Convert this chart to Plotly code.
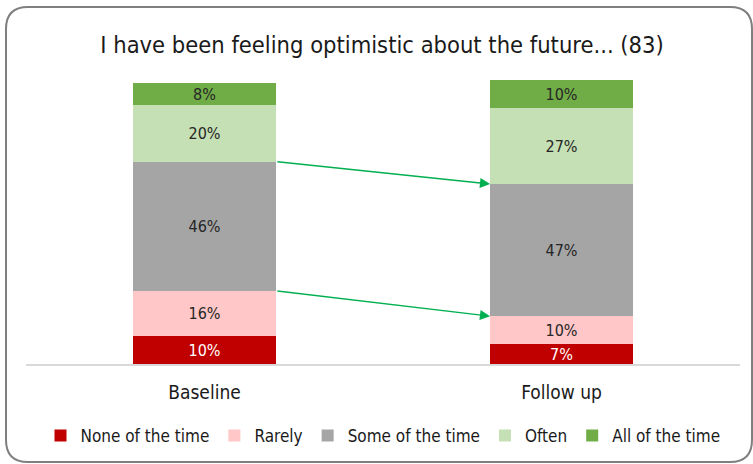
import plotly.graph_objects as go

# Survey responses, % of respondents (n = 83)
periods = ["Baseline", "Follow up"]
responses = ["None of the time", "Rarely", "Some of the time", "Often", "All of the time"]
none_of_time = [10, 7]
rarely = [16, 10]
some_of_time = [46, 47]
often = [20, 27]
all_of_time = [8, 10]

series = [none_of_time, rarely, some_of_time, often, all_of_time]
colors = ["#C00000", "#FFC7C7", "#A5A5A5", "#C5E0B4", "#70AD47"]
label_colors = ["#FFFFFF", "#262626", "#262626", "#262626", "#262626"]

FONT = "DejaVu Sans Condensed, Liberation Sans Narrow, Arial Narrow, sans-serif"
xpos = list(range(len(periods)))
BAR_W = 0.4

fig = go.Figure()
for name, vals, col, lc in zip(responses, series, colors, label_colors):
    fig.add_trace(go.Bar(
        x=xpos, y=vals, name=name, width=BAR_W,
        marker=dict(color=col, line=dict(width=0)),
        text=[f"{v}%" for v in vals],
        textposition="inside", insidetextanchor="middle",
        textfont=dict(family=FONT, size=16, color=lc),
        constraintext="none",
    ))

# Arrows linking the upper edges of "Rarely" and "Some of the time" between periods
def cum(idx, k):
    return sum(s[idx] for s in series[:k + 1])

for k in (2, 1):
    fig.add_annotation(
        x=xpos[1] - BAR_W / 2, y=cum(1, k),
        ax=xpos[0] + BAR_W / 2, ay=cum(0, k),
        xref="x", yref="y", axref="x", ayref="y",
        showarrow=True, arrowhead=2, arrowsize=1.45, arrowwidth=1.4,
        arrowcolor="#00B050", standoff=0, startstandoff=0, text="",
    )

# Rounded outer frame
L, T, R, B = 26, 80, 740, 364
W, H = R - L, B - T
def px(x):
    return (x - L) / W
def py(y):
    return (B - y) / H
fx0, fx1, fy0, fy1, rad = 6, 752, 7, 462, 22
path = (
    f"M {px(fx0 + rad)},{py(fy0)} L {px(fx1 - rad)},{py(fy0)} "
    f"Q {px(fx1)},{py(fy0)} {px(fx1)},{py(fy0 + rad)} "
    f"L {px(fx1)},{py(fy1 - rad)} Q {px(fx1)},{py(fy1)} {px(fx1 - rad)},{py(fy1)} "
    f"L {px(fx0 + rad)},{py(fy1)} Q {px(fx0)},{py(fy1)} {px(fx0)},{py(fy1 - rad)} "
    f"L {px(fx0)},{py(fy0 + rad)} Q {px(fx0)},{py(fy0)} {px(fx0 + rad)},{py(fy0)} Z"
)
fig.add_shape(type="path", path=path, xref="paper", yref="paper",
              line=dict(color="#7F7F7F", width=2), layer="above")

fig.update_layout(
    width=753, height=464,
    margin=dict(l=L, r=753 - R, t=T, b=464 - B, autoexpand=False),
    paper_bgcolor="white", plot_bgcolor="white",
    barmode="stack", bargap=0,
    title=dict(text="I have been feeling optimistic about the future... (83)",
               x=382 / 753, xanchor="center", y=1 - 45 / 464, yanchor="middle",
               yref="container", font=dict(family=FONT, size=23.5, color="#1A1A1A")),
    font=dict(family=FONT, color="#262626"),
    legend=dict(orientation="h", xref="container", yref="container",
                x=383 / 753, xanchor="center", y=1 - 436 / 464, yanchor="middle",
                font=dict(family=FONT, size=17, color="#1A1A1A"), itemwidth=30,
                traceorder="normal", itemclick=False, bgcolor="rgba(0,0,0,0)"),
    xaxis=dict(range=[-0.5, 1.5], tickvals=xpos, ticktext=periods, showgrid=False,
               zeroline=False, showline=True, linecolor="#D9D9D9", linewidth=1.5,
               ticks="", ticklabelstandoff=10,
               tickfont=dict(family=FONT, size=19, color="#1A1A1A"), fixedrange=True),
    yaxis=dict(range=[0, 101], visible=False, fixedrange=True),
    showlegend=True,
)

fig.write_html("out.html")
